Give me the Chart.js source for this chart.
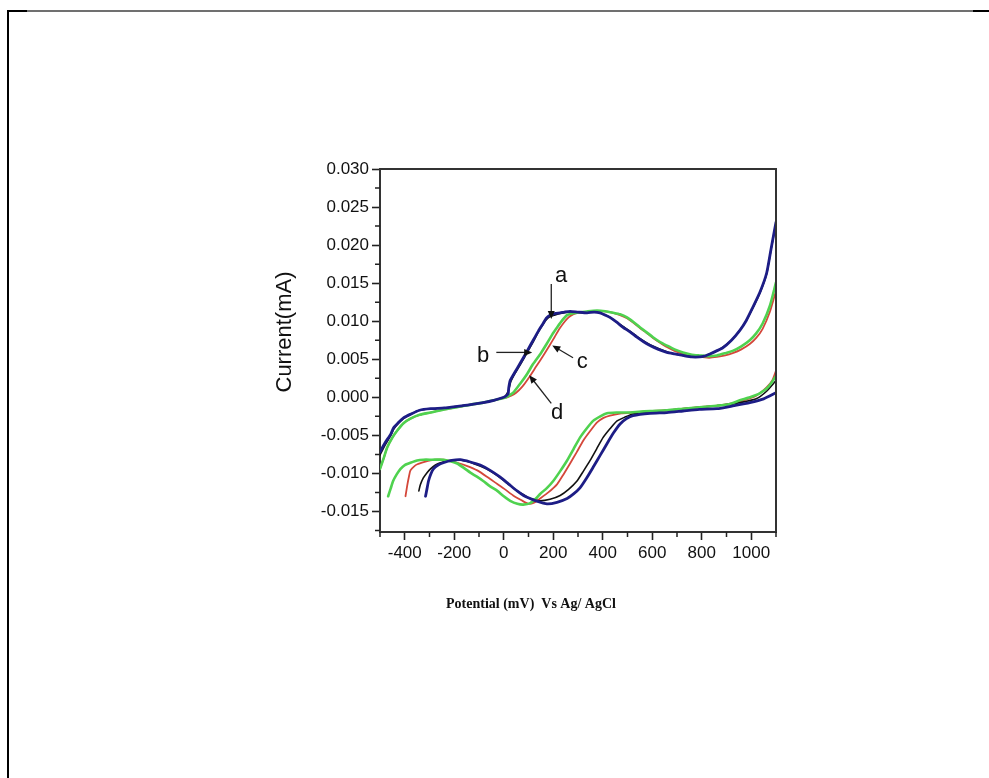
<!DOCTYPE html>
<html>
<head>
<meta charset="utf-8">
<script src="https://cdn.jsdelivr.net/npm/chart.js@4.4.1/dist/chart.umd.min.js"></script>
<style>
  html, body { margin: 0; padding: 0; background: #fff; }
  body { width: 989px; height: 778px; position: relative; overflow: hidden; }
  .rule { position: absolute; }
  #topRule { left: 7px; top: 10px; width: 982px; height: 2px; background: #707070; }
  #topRuleL { left: 7px; top: 10px; width: 20px; height: 2px; background: #000; }
  #topRuleR { left: 973px; top: 10px; width: 16px; height: 2px; background: #000; }
  #leftRule { left: 7px; top: 10px; width: 2px; height: 768px; background: #000; }
  canvas { position: absolute; left: 0; top: 0; }
</style>
</head>
<body>
<div class="rule" id="topRule"></div>
<div class="rule" id="topRuleL"></div>
<div class="rule" id="topRuleR"></div>
<div class="rule" id="leftRule"></div>
<canvas id="cv" width="989" height="778"></canvas>
<script>
// Cyclic voltammograms: potential (mV vs Ag/AgCl) and current (mA)
// Each curve = cathodic (lower) sweep + anodic (upper) sweep.

// ---- a (navy) ----
const potA_low = [-316, -310, -304, -295, -284, -265, -244, -210, -175, -135, -95, -55, -14, 20, 54, 80, 99, 130, 175, 215, 256, 282, 308, 335, 361, 390, 417, 443, 470, 496, 522, 591, 659, 724, 790, 861, 930, 994, 1050, 1100];
const curA_low = [-0.0130, -0.0120, -0.0110, -0.0101, -0.0094, -0.0089, -0.0086, -0.0083, -0.0082, -0.0085, -0.0089, -0.0096, -0.0105, -0.0114, -0.0123, -0.0129, -0.0132, -0.0136, -0.0140, -0.0138, -0.0133, -0.0127, -0.0119, -0.0106, -0.0092, -0.0076, -0.0061, -0.0047, -0.0035, -0.0028, -0.0024, -0.0021, -0.0020, -0.0018, -0.0016, -0.0015, -0.0011, -0.0007, -0.0002, 0.0006];
const potA_up = [1100, 1080, 1062, 1035, 1006, 980, 954, 920, 885, 860, 833, 810, 792, 760, 724, 690, 659, 625, 591, 565, 538, 510, 482, 455, 429, 410, 389, 365, 337, 300, 268, 245, 228, 205, 187, 172, 159, 140, 119, 95, 67, 45, 26, 20, 18, 10, 0, -40, -83, -140, -188, -240, -296, -340, -375, -405, -428, -445, -456, -480, -500];
const curA_up = [0.0230, 0.0195, 0.0163, 0.0138, 0.0118, 0.0101, 0.0088, 0.0075, 0.0065, 0.0061, 0.0057, 0.0054, 0.0053, 0.0053, 0.0055, 0.0057, 0.0059, 0.0063, 0.0068, 0.0073, 0.0079, 0.0086, 0.0092, 0.0099, 0.0105, 0.0108, 0.0111, 0.0112, 0.0111, 0.0112, 0.0113, 0.0112, 0.0111, 0.0110, 0.0108, 0.0104, 0.0097, 0.0087, 0.0075, 0.0061, 0.0045, 0.0033, 0.0022, 0.0012, 0.0005, 0.0002, 0.0000, -0.0004, -0.0007, -0.0010, -0.0012, -0.0014, -0.0015, -0.0017, -0.0022, -0.0027, -0.0034, -0.0040, -0.0048, -0.0060, -0.0072];

// ---- b (black) ----
const potB_low = [-343, -337, -325, -310, -296, -276, -256, -220, -188, -150, -107, -65, -26, 14, 54, 80, 99, 119, 147, 187, 228, 262, 296, 322, 349, 375, 401, 430, 458, 490, 522, 591, 660, 724, 790, 861, 920, 970, 1020, 1062, 1100];
const curB_low = [-0.0123, -0.0115, -0.0106, -0.0099, -0.0094, -0.0089, -0.0086, -0.0083, -0.0082, -0.0084, -0.0089, -0.0095, -0.0103, -0.0113, -0.0123, -0.0128, -0.0132, -0.0134, -0.0136, -0.0134, -0.0129, -0.0121, -0.0110, -0.0097, -0.0083, -0.0068, -0.0053, -0.0041, -0.0031, -0.0026, -0.0022, -0.0019, -0.0017, -0.0015, -0.0013, -0.0011, -0.0009, -0.0006, -0.0002, 0.0008, 0.0022];
const potB_up = [1100, 1080, 1062, 1035, 1006, 980, 954, 920, 885, 860, 833, 810, 792, 760, 724, 690, 659, 625, 591, 565, 538, 510, 482, 455, 429, 410, 389, 365, 337, 300, 268, 245, 228, 205, 187, 172, 159, 140, 119, 95, 67, 45, 28, 20, 10, 0, -40, -83, -140, -188, -240, -296, -340, -375, -405, -428, -445, -456, -480, -500];
const curB_up = [0.0229, 0.0194, 0.0162, 0.0137, 0.0117, 0.0101, 0.0088, 0.0075, 0.0066, 0.0061, 0.0057, 0.0054, 0.0053, 0.0054, 0.0055, 0.0057, 0.0060, 0.0064, 0.0069, 0.0074, 0.0080, 0.0087, 0.0093, 0.0099, 0.0105, 0.0108, 0.0111, 0.0112, 0.0112, 0.0112, 0.0112, 0.0111, 0.0110, 0.0108, 0.0106, 0.0102, 0.0096, 0.0086, 0.0073, 0.0059, 0.0043, 0.0031, 0.0020, 0.0010, 0.0003, 0.0000, -0.0004, -0.0007, -0.0010, -0.0012, -0.0014, -0.0015, -0.0017, -0.0022, -0.0028, -0.0035, -0.0042, -0.0050, -0.0063, -0.0076];

// ---- c (red) ----
const potC_low = [-397, -393, -389, -383, -377, -363, -349, -320, -296, -270, -244, -215, -188, -150, -107, -65, -26, 5, 38, 70, 99, 125, 147, 180, 216, 242, 268, 295, 321, 350, 377, 403, 429, 475, 522, 591, 660, 724, 790, 861, 920, 970, 1020, 1062, 1085, 1100];
const curC_low = [-0.0130, -0.0122, -0.0114, -0.0104, -0.0096, -0.0091, -0.0088, -0.0085, -0.0083, -0.0082, -0.0082, -0.0084, -0.0086, -0.0090, -0.0096, -0.0105, -0.0114, -0.0121, -0.0129, -0.0135, -0.0140, -0.0138, -0.0133, -0.0125, -0.0114, -0.0101, -0.0087, -0.0072, -0.0057, -0.0044, -0.0033, -0.0027, -0.0024, -0.0021, -0.0020, -0.0018, -0.0017, -0.0015, -0.0013, -0.0011, -0.0008, -0.0004, 0.0002, 0.0013, 0.0022, 0.0035];
const potC_up = [1100, 1075, 1046, 1020, 994, 960, 925, 895, 861, 830, 792, 760, 724, 690, 659, 630, 603, 575, 550, 524, 498, 470, 442, 410, 377, 340, 300, 280, 262, 245, 225, 205, 185, 160, 130, 100, 75, 50, 30, 14, 0, -40, -83, -140, -188, -240, -296, -340, -377, -405, -431, -450, -471, -485, -500];
const curC_up = [0.0140, 0.0112, 0.0090, 0.0078, 0.0070, 0.0063, 0.0058, 0.0055, 0.0053, 0.0052, 0.0053, 0.0055, 0.0057, 0.0061, 0.0066, 0.0072, 0.0078, 0.0085, 0.0091, 0.0098, 0.0104, 0.0108, 0.0111, 0.0113, 0.0113, 0.0112, 0.0111, 0.0109, 0.0105, 0.0099, 0.0090, 0.0079, 0.0068, 0.0055, 0.0040, 0.0025, 0.0014, 0.0006, 0.0002, 0.0000, -0.0001, -0.0004, -0.0007, -0.0010, -0.0013, -0.0016, -0.0020, -0.0023, -0.0028, -0.0034, -0.0044, -0.0053, -0.0066, -0.0080, -0.0094];

// ---- d (green) ----
const potD_low = [-467, -457, -447, -432, -417, -400, -377, -350, -325, -290, -244, -215, -188, -160, -135, -110, -83, -55, -26, 0, 26, 55, 79, 107, 130, 147, 175, 200, 228, 256, 282, 308, 335, 361, 390, 417, 455, 498, 545, 591, 660, 724, 790, 861, 910, 954, 995, 1034, 1070, 1100];
const curD_low = [-0.0130, -0.0120, -0.0110, -0.0101, -0.0094, -0.0089, -0.0086, -0.0083, -0.0082, -0.0082, -0.0082, -0.0084, -0.0087, -0.0093, -0.0099, -0.0104, -0.0110, -0.0117, -0.0123, -0.0130, -0.0136, -0.0140, -0.0141, -0.0139, -0.0133, -0.0127, -0.0119, -0.0110, -0.0097, -0.0083, -0.0068, -0.0053, -0.0041, -0.0031, -0.0025, -0.0021, -0.0020, -0.0020, -0.0019, -0.0018, -0.0017, -0.0015, -0.0013, -0.0011, -0.0009, -0.0004, 0.0000, 0.0005, 0.0014, 0.0028];
const potD_up = [1100, 1075, 1046, 1020, 994, 960, 925, 895, 861, 830, 792, 760, 724, 690, 659, 630, 603, 575, 550, 524, 498, 470, 442, 410, 377, 340, 296, 275, 256, 236, 216, 195, 175, 150, 119, 95, 67, 50, 38, 14, 0, -40, -83, -140, -188, -240, -296, -340, -377, -405, -431, -450, -471, -485, -500];
const curD_up = [0.0151, 0.0120, 0.0097, 0.0084, 0.0075, 0.0067, 0.0061, 0.0058, 0.0055, 0.0054, 0.0055, 0.0056, 0.0059, 0.0063, 0.0068, 0.0073, 0.0079, 0.0086, 0.0092, 0.0099, 0.0105, 0.0109, 0.0111, 0.0113, 0.0114, 0.0113, 0.0111, 0.0110, 0.0108, 0.0101, 0.0092, 0.0082, 0.0071, 0.0058, 0.0044, 0.0031, 0.0018, 0.0011, 0.0006, 0.0001, -0.0001, -0.0004, -0.0007, -0.0010, -0.0013, -0.0016, -0.0020, -0.0023, -0.0028, -0.0034, -0.0044, -0.0053, -0.0066, -0.0080, -0.0094];

// Axis ticks
const xMajorTicks = [-400, -200, 0, 200, 400, 600, 800, 1000];
const xMinorTicks = [-500, -300, -100, 100, 300, 500, 700, 900, 1100];
const yMajorTicks = [-0.015, -0.010, -0.005, 0.000, 0.005, 0.010, 0.015, 0.020, 0.025, 0.030];
const yMinorTicks = [-0.0175, -0.0125, -0.0075, -0.0025, 0.0025, 0.0075, 0.0125, 0.0175, 0.0225, 0.0275];

const yTitle = 'Current(mA)';
const xTitle = 'Potential (mV)  Vs Ag/ AgCl';

// Join a lower and an upper sweep, broken at the right-hand edge
function loop(pLow, cLow, pUp, cUp) {
  const pts = pLow.map((p, i) => ({ x: p, y: cLow[i] }));
  pts.push({ x: pUp[0], y: null });
  pUp.forEach((p, i) => pts.push({ x: p, y: cUp[i] }));
  return pts;
}

const SANS = "'Liberation Sans', Arial, sans-serif";

// Frame, minor ticks, axis titles and the a–d pointer labels
const decor = {
  id: 'decor',
  afterDatasetsDraw(chart) {
    const { ctx, scales: { x, y } } = chart;
    const X = v => x.getPixelForValue(v);
    const Y = v => y.getPixelForValue(v);

    function arrow(x1, y1, x2, y2) {
      const ax = X(x1), ay = Y(y1), bx = X(x2), by = Y(y2);
      const ang = Math.atan2(by - ay, bx - ax);
      const L = 8, W = 3.5;
      ctx.save();
      ctx.strokeStyle = '#222';
      ctx.fillStyle = '#111';
      ctx.lineWidth = 1.3;
      ctx.beginPath();
      ctx.moveTo(ax, ay);
      ctx.lineTo(bx - Math.cos(ang) * L * 0.8, by - Math.sin(ang) * L * 0.8);
      ctx.stroke();
      ctx.beginPath();
      ctx.moveTo(bx, by);
      ctx.lineTo(bx - Math.cos(ang) * L - Math.sin(ang) * W, by - Math.sin(ang) * L + Math.cos(ang) * W);
      ctx.lineTo(bx - Math.cos(ang) * L + Math.sin(ang) * W, by - Math.sin(ang) * L - Math.cos(ang) * W);
      ctx.closePath();
      ctx.fill();
      ctx.restore();
    }
    function letter(t, px, py) {
      ctx.save();
      ctx.font = '22px ' + SANS;
      ctx.fillStyle = '#111';
      ctx.textAlign = 'center';
      ctx.textBaseline = 'alphabetic';
      ctx.fillText(t, X(px), Y(py));
      ctx.restore();
    }

    letter('a', 232, 0.0151);
    arrow(192, 0.0149, 192, 0.0103);
    letter('b', -83, 0.0046);
    arrow(-30, 0.0059, 115, 0.0059);
    letter('c', 317, 0.0038);
    arrow(280, 0.0052, 196, 0.0068);
    letter('d', 216, -0.0028);
    arrow(192, -0.0008, 103, 0.0029);
  },
  afterDraw(chart) {
    const { ctx, chartArea: a, scales: { x, y } } = chart;
    ctx.save();
    // plot frame (top and right edges)
    ctx.strokeStyle = '#333';
    ctx.lineWidth = 2;
    ctx.beginPath();
    ctx.moveTo(a.left, a.top);
    ctx.lineTo(a.right, a.top);
    ctx.lineTo(a.right, a.bottom);
    ctx.stroke();

    // minor ticks
    ctx.strokeStyle = '#222';
    ctx.lineWidth = 1.5;
    ctx.beginPath();
    xMinorTicks.forEach(v => {
      const px = x.getPixelForValue(v);
      ctx.moveTo(px, a.bottom);
      ctx.lineTo(px, a.bottom + 5);
    });
    yMinorTicks.forEach(v => {
      const py = y.getPixelForValue(v);
      ctx.moveTo(a.left, py);
      ctx.lineTo(a.left - 5, py);
    });
    ctx.stroke();

    // y title
    ctx.fillStyle = '#111';
    ctx.font = '22px ' + SANS;
    ctx.textAlign = 'center';
    ctx.textBaseline = 'middle';
    ctx.translate(a.left - 95, a.top + 163);
    ctx.rotate(-Math.PI / 2);
    ctx.fillText(yTitle, 0, 0);
    ctx.restore();

    // x title
    ctx.save();
    ctx.fillStyle = '#111';
    ctx.font = "bold 14px 'Liberation Serif', 'Times New Roman', serif";
    ctx.textAlign = 'center';
    ctx.textBaseline = 'middle';
    ctx.fillText(xTitle, a.left + 151, a.bottom + 72);
    ctx.restore();
  }
};

new Chart(document.getElementById('cv'), {
  type: 'line',
  data: {
    datasets: [
      { label: 'a', data: loop(potA_low, curA_low, potA_up, curA_up), borderColor: '#1d1d86', borderWidth: 2.8 },
      { label: 'd', data: loop(potD_low, curD_low, potD_up, curD_up), borderColor: '#4fd24f', borderWidth: 2.6 },
      { label: 'b', data: loop(potB_low, curB_low, potB_up, curB_up), borderColor: '#111111', borderWidth: 1.6 },
      { label: 'c', data: loop(potC_low, curC_low, potC_up, curC_up), borderColor: '#d4473a', borderWidth: 1.8 }
    ]
  },
  options: {
    responsive: false,
    animation: false,
    devicePixelRatio: 1,
    parsing: true,
    spanGaps: false,
    elements: {
      point: { radius: 0 },
      line: { tension: 0.2, fill: false, borderJoinStyle: 'round', borderCapStyle: 'round' }
    },
    layout: { padding: { left: 280, top: 169, right: 213, bottom: 206 } },
    plugins: { legend: { display: false }, tooltip: { enabled: false } },
    scales: {
      x: {
        type: 'linear',
        min: -500,
        max: 1100,
        afterBuildTicks: s => { s.ticks = xMajorTicks.map(v => ({ value: v })); },
        afterFit: s => { s.height = 40; },
        grid: { drawOnChartArea: false, drawTicks: true, tickLength: 8, tickColor: '#222', tickWidth: 1.6 },
        border: { display: true, color: '#333', width: 2 },
        ticks: {
          autoSkip: false, maxRotation: 0, padding: 3, color: '#111',
          font: { family: SANS, size: 17 },
          callback: v => String(v)
        },
        title: { display: false }
      },
      y: {
        type: 'linear',
        min: -0.0177,
        max: 0.030,
        afterBuildTicks: s => { s.ticks = yMajorTicks.map(v => ({ value: v })); },
        afterFit: s => { s.width = 100; },
        grid: { drawOnChartArea: false, drawTicks: true, tickLength: 8, tickColor: '#222', tickWidth: 1.6 },
        border: { display: true, color: '#333', width: 2 },
        ticks: {
          autoSkip: false, padding: 3, color: '#111',
          font: { family: SANS, size: 17 },
          callback: v => Number(v).toFixed(3)
        },
        title: { display: false }
      }
    }
  },
  plugins: [decor]
});
</script>
</body>
</html>
